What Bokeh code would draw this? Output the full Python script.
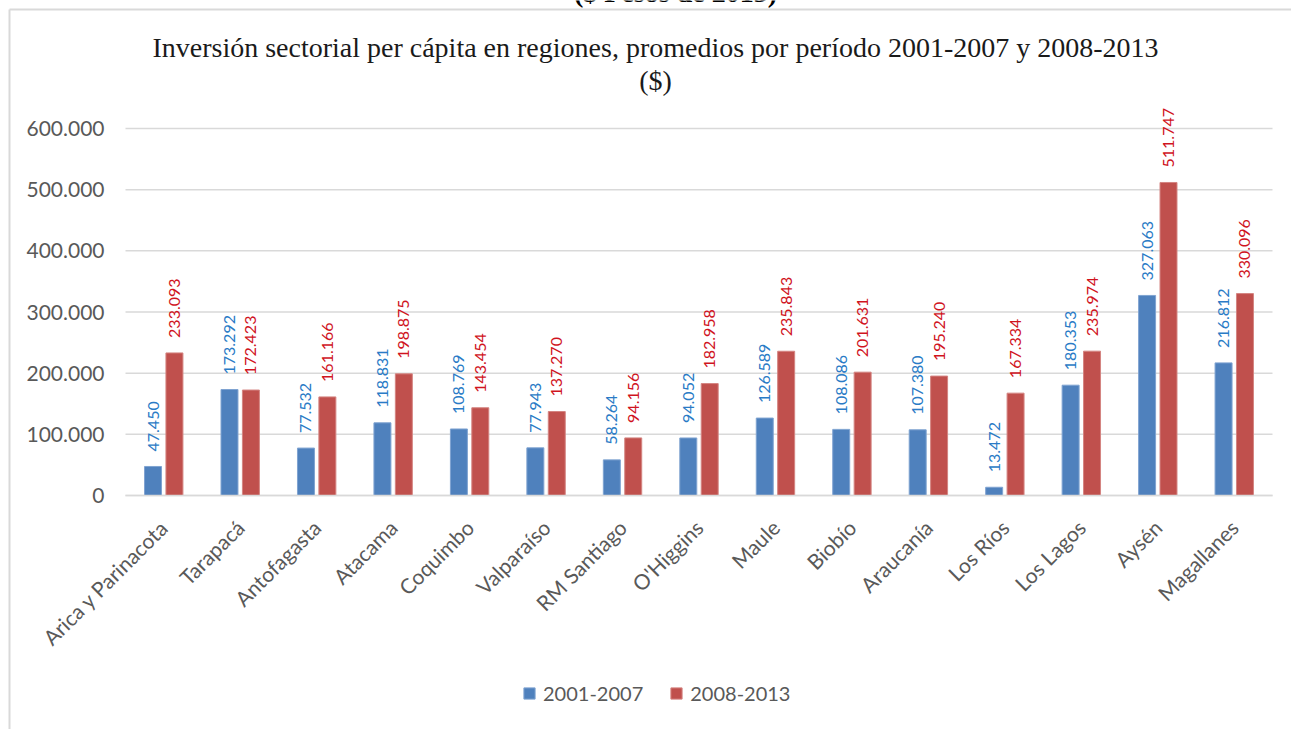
from bokeh.plotting import figure
from bokeh.models import (ColumnDataSource, Range1d, FixedTicker, Legend,
                          LegendItem, Label)
from bokeh.transform import dodge
from bokeh.core.properties import value
from bokeh.embed import file_html
from bokeh.resources import INLINE
import math

regions = ["Arica y Parinacota", "Tarapacá", "Antofagasta", "Atacama", "Coquimbo",
           "Valparaíso", "RM Santiago", "O'Higgins", "Maule", "Biobío", "Araucanía",
           "Los Ríos", "Los Lagos", "Aysén", "Magallanes"]
p2001_2007 = [47450, 173292, 77532, 118831, 108769, 77943, 58264, 94052, 126589,
              108086, 107380, 13472, 180353, 327063, 216812]
p2008_2013 = [233093, 172423, 161166, 198875, 143454, 137270, 94156, 182958, 235843,
              201631, 195240, 167334, 235974, 511747, 330096]
series_names = ["2001-2007", "2008-2013"]
y_ticks = [0, 100000, 200000, 300000, 400000, 500000, 600000]
y_tick_labels = ["0", "100.000", "200.000", "300.000", "400.000", "500.000", "600.000"]
title_top = "($ Pesos de 2013)"
title_line1 = "Inversión sectorial per cápita en regiones, promedios por período 2001-2007 y 2008-2013"
title_line2 = "($)"

def fmt(v):
    return f"{v:,}".replace(",", ".")

idx = list(range(len(regions)))
src = ColumnDataSource(dict(
    x=idx,
    a=p2001_2007, b=p2008_2013,
    a_lab=[fmt(v) for v in p2001_2007],
    b_lab=[fmt(v) for v in p2008_2013],
))

BLUE = "#4F81BD"
RED = "#C0504D"
LBLUE = "#2A7BC6"
LRED = "#D0141E"
GREY = "#595959"
GRID = "#D9D9D9"
FONT = "Lato"

W, H = 1291, 729
PLOT_L, PLOT_R = 125, 1272          # canvas columns of the category area
ZERO_PX = 495                       # canvas row of the 0 line
UNIT = 600000 / 367                 # value per pixel (600.000 line at row 128)
PX = (PLOT_R - PLOT_L) / len(regions)   # pixels per category

x_start = -0.5 - PLOT_L / PX
x_end = len(regions) - 0.5 + (W - PLOT_R) / PX

def xpx(px):
    return x_start + px / PX

def ypx(py):
    return (ZERO_PX - py) * UNIT

p = figure(x_range=Range1d(x_start, x_end),
           y_range=Range1d(ypx(H), ypx(0)),
           width=W, height=H, output_backend="svg", toolbar_location=None,
           min_border_left=0, min_border_right=0, min_border_top=0,
           min_border_bottom=0)
p.outline_line_color = None
p.background_fill_color = "white"
p.border_fill_color = "white"

# chart border (decoration)
p.segment(x0=[xpx(9), xpx(9)], y0=[ypx(9), ypx(9)], x1=[xpx(9), xpx(W)],
          y1=[ypx(H), ypx(9)], line_color=GRID, line_width=2)

# horizontal gridlines limited to the category area
p.segment(x0=[-0.5] * len(y_ticks), x1=[len(regions) - 0.5] * len(y_ticks),
          y0=y_ticks, y1=y_ticks, line_color=GRID, line_width=1.5)

ra = p.vbar(x=dodge("x", -0.14), top="a", width=0.222, source=src,
            fill_color=BLUE, line_color="#7FA3D1", line_width=1)
rb = p.vbar(x=dodge("x", 0.14), top="b", width=0.222, source=src,
            fill_color=RED, line_color="#D48481", line_width=1)

p.text(x=dodge("x", -0.14), y="a", text="a_lab", source=src,
       angle=math.pi / 2, text_align="left", text_baseline="middle", y_offset=-15,
       text_color=LBLUE, text_font=value(FONT), text_font_size="16px")
p.text(x=dodge("x", 0.14), y="b", text="b_lab", source=src,
       angle=math.pi / 2, text_align="left", text_baseline="middle", y_offset=-15,
       text_color=LRED, text_font=value(FONT), text_font_size="16px")

# axes
p.yaxis.fixed_location = -0.5
p.yaxis.ticker = FixedTicker(ticks=y_ticks)
p.yaxis.major_label_overrides = {t: l for t, l in zip(y_ticks, y_tick_labels)}
p.yaxis.axis_line_color = None
p.yaxis.major_tick_line_color = None
p.yaxis.major_tick_out = 0
p.yaxis.major_tick_in = 0
p.yaxis.minor_tick_line_color = None
p.yaxis.major_label_standoff = 21
p.yaxis.major_label_text_font = FONT
p.yaxis.major_label_text_font_size = "21px"
p.yaxis.major_label_text_color = GREY

p.xaxis.fixed_location = 0
p.xaxis.bounds = (-0.5, len(regions) - 0.5)
p.xaxis.ticker = FixedTicker(ticks=idx)
p.xaxis.major_label_overrides = {i: r for i, r in zip(idx, regions)}
p.xaxis.axis_line_color = GRID
p.xaxis.axis_line_width = 1.5
p.xaxis.major_tick_line_color = None
p.xaxis.major_tick_out = 0
p.xaxis.major_tick_in = 0
p.xaxis.minor_tick_line_color = None
p.xaxis.major_label_orientation = math.pi / 4
p.xaxis.major_label_standoff = 28
p.xaxis.major_label_text_font = FONT
p.xaxis.major_label_text_font_size = "21px"
p.xaxis.major_label_text_color = GREY

p.xgrid.grid_line_color = None
p.ygrid.grid_line_color = None

# titles
p.add_layout(Label(x=xpx(675), y=ypx(7), text=title_top,
                   text_align="center", text_baseline="bottom",
                   text_font="Liberation Serif", text_font_size="28px",
                   text_font_style="bold", text_color="#000000"))
p.add_layout(Label(x=xpx(655), y=ypx(47), text=title_line1,
                   text_align="center", text_baseline="middle",
                   text_font="Liberation Serif", text_font_size="28px",
                   text_color="#1a1a1a"))
p.add_layout(Label(x=xpx(655), y=ypx(80), text=title_line2,
                   text_align="center", text_baseline="middle",
                   text_font="Liberation Serif", text_font_size="28px",
                   text_color="#1a1a1a"))

legend = Legend(items=[LegendItem(label=series_names[0], renderers=[ra]),
                       LegendItem(label=series_names[1], renderers=[rb])],
                location=(522, 24), orientation="horizontal",
                glyph_width=14, glyph_height=14, label_standoff=7, spacing=26,
                label_text_font=FONT, label_text_font_size="20px",
                label_text_color=GREY, border_line_color=None,
                background_fill_alpha=0)
p.add_layout(legend, "center")

open("out.html", "w").write(file_html(p, INLINE))
